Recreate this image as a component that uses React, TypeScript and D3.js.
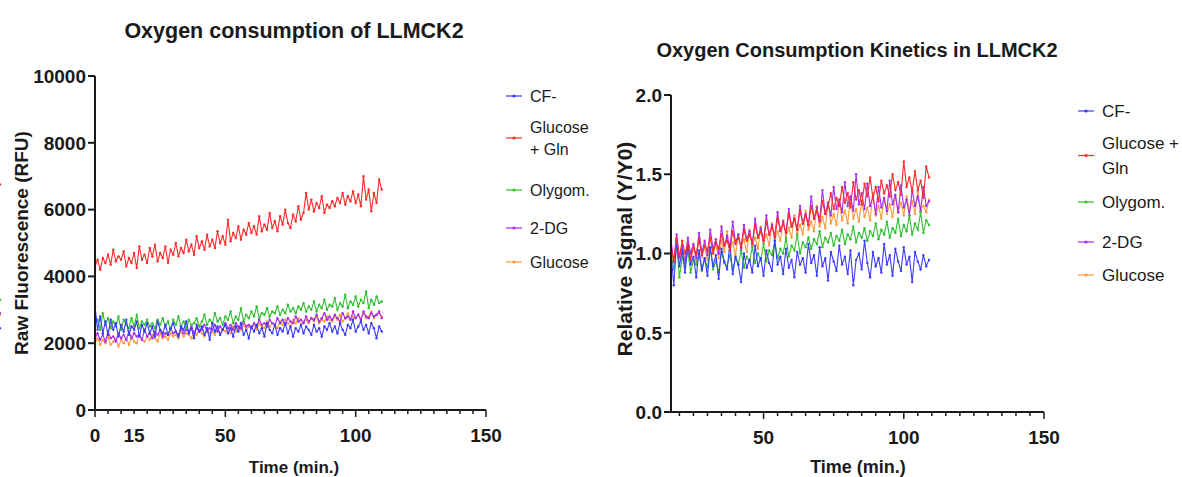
import React from "react";
import * as d3 from "d3";

// ---------- DATA ----------
const seriesNames = ["CF-", "Glucose + Gln", "Olygom.", "2-DG", "Glucose"];
const seriesColors = ["#3b3bff", "#ff2a2a", "#2fbf2f", "#a52cf0", "#ff9a3c"];

const timeLeft = d3.range(0, 111, 1);
const rawCF = [3100, 2400, 2800, 2300, 2650, 2250, 2700, 2400, 2600, 2200, 2550,
  2350, 2700, 2250, 2500, 2400, 2650, 2200, 2550, 2350, 2600,
  2300, 2500, 2200, 2650, 2400, 2300, 2550, 2250, 2450, 2600,
  2350, 2200, 2500, 2400, 2650, 2300, 2450, 2150, 2550, 2350,
  2500, 2250, 2450, 2100, 2600, 2350, 2500, 2250, 2400, 2550,
  2300, 2450, 2200, 2500, 2350, 2600, 2250, 2400, 2150, 2500,
  2350, 2550, 2300, 2450, 2200, 2600, 2400, 2300, 2550, 2250,
  2450, 2350, 2600, 2300, 2500, 2200, 2450, 2350, 2550, 2300,
  2500, 2400, 2250, 2550, 2350, 2450, 2200, 2500, 2400, 2600,
  2350, 2500, 2300, 2600, 2400, 2250, 2550, 2450, 2700, 2350,
  2500, 2650, 2400, 2550, 2300, 2600, 2450, 2150, 2500, 2350, 2450];
const rawGlcGln = [4300, 4500, 4200, 4550, 4400, 4650, 4350, 4800, 4450, 4600, 4500,
  4750, 4300, 4550, 4400, 4700, 4250, 4900, 4500, 4650, 4400,
  4850, 4600, 4950, 4450, 4700, 4550, 4900, 4400, 4800, 4650,
  5000, 4600, 4850, 4700, 5100, 4750, 4950, 4650, 5200, 4850,
  5050, 4800, 5250, 4900, 5100, 4850, 5350, 5000, 5200, 4950,
  5700, 5050, 5300, 5150, 5500, 5100, 5400, 5250, 5600, 5300,
  5500, 5250, 5800, 5350, 5550, 5400, 5900, 5450, 5650, 5350,
  5800, 5550, 6000, 5600, 5450, 5850, 5650, 6100, 5700, 5900,
  6500, 6000, 6300, 5950, 6200, 6050, 6400, 5900, 6150, 6050,
  6250, 6100, 6350, 6200, 6500, 6150, 6400, 6250, 6550, 6200,
  6450, 6100, 7000, 6300, 6600, 5950, 6500, 6200, 6900, 6600, 6750];
const rawOlygom = [2500, 2700, 2400, 2900, 2550, 2750, 2450, 2650, 2500, 2800, 2400,
  2700, 2550, 2450, 2750, 2500, 2850, 2450, 2650, 2550, 2700,
  2500, 2600, 2450, 2700, 2550, 2750, 2500, 2650, 2400, 2700,
  2550, 2800, 2500, 2650, 2450, 2700, 2550, 2600, 2750, 2500,
  2650, 2850, 2550, 2700, 2600, 2900, 2650, 2750, 2550, 2800,
  2700, 2950, 2600, 2800, 2700, 3050, 2650, 2850, 2750, 2950,
  2800, 3100, 2750, 2900, 2850, 3050, 2800, 2950, 2900, 3100,
  2850, 3000, 2900, 3150, 2950, 3050, 2900, 3100, 3000, 3200,
  2950, 3100, 3000, 3250, 2950, 3150, 3050, 3300, 3000, 3150,
  3100, 3350, 3000, 3200, 3100, 3450, 3050, 3250, 3150, 3400,
  3100, 3300, 3200, 3550, 3050, 3300, 3150, 3400, 3200, 3250, 3300];
const raw2DG = [2150, 2300, 2100, 2250, 2050, 2350, 2150, 2200, 2050, 2300, 2150,
  2250, 2100, 2350, 2150, 2300, 2200, 2250, 2100, 2400, 2200,
  2300, 2150, 2350, 2250, 2400, 2200, 2300, 2250, 2450, 2300,
  2350, 2250, 2450, 2300, 2400, 2350, 2500, 2300, 2450, 2350,
  2400, 2550, 2350, 2450, 2400, 2550, 2350, 2500, 2400, 2600,
  2450, 2550, 2400, 2600, 2500, 2450, 2650, 2500, 2550, 2450,
  2600, 2500, 2700, 2550, 2600, 2500, 2700, 2600, 2550, 2750,
  2600, 2700, 2550, 2750, 2650, 2600, 2800, 2650, 2700, 2600,
  2800, 2650, 2750, 2700, 2850, 2650, 2750, 2900, 2700, 2800,
  2700, 2850, 2750, 2650, 2900, 2750, 2800, 2700, 2950, 2750,
  2850, 2700, 2950, 2800, 2750, 2900, 2800, 2850, 2950, 2750, 2900];
const rawGlucose = [2000, 2150, 1950, 2100, 2000, 2200, 1950, 2050, 2150, 1900, 2100,
  2000, 2150, 1950, 2200, 2050, 2000, 2250, 2100, 2050, 2200,
  2100, 2250, 2150, 2050, 2300, 2150, 2200, 2100, 2300, 2200,
  2250, 2150, 2350, 2200, 2300, 2250, 2150, 2350, 2250, 2400,
  2300, 2200, 2400, 2300, 2350, 2250, 2450, 2300, 2400, 2350,
  2450, 2300, 2500, 2350, 2450, 2400, 2550, 2400, 2500, 2450,
  2550, 2400, 2600, 2500, 2450, 2650, 2500, 2600, 2550, 2450,
  2650, 2550, 2700, 2600, 2500, 2700, 2600, 2750, 2550, 2650,
  2700, 2600, 2750, 2650, 2800, 2600, 2700, 2650, 2800, 2700,
  2650, 2800, 2700, 2850, 2650, 2750, 2900, 2700, 2800, 2750,
  2850, 2700, 2900, 2750, 2800, 2950, 2750, 2850, 2900, 2800, 2850];

const timeRight = d3.range(17, 110, 1);
const relCF = [1.00, 0.80, 1.08, 0.92, 1.02, 0.88, 1.05, 0.93, 0.98, 0.85,
  1.02, 0.90, 0.97, 0.86, 1.04, 0.92, 0.99, 0.84, 1.03, 0.95,
  0.90, 1.06, 0.87, 0.98, 0.93, 0.82, 1.00, 0.91, 0.96, 0.88,
  1.05, 0.92, 0.97, 0.86, 1.02, 0.94, 0.89, 1.08, 0.93, 0.98,
  0.87, 1.03, 0.91, 0.96, 0.85, 1.01, 0.93, 0.97, 0.88, 1.06,
  0.94, 0.99, 0.86, 1.04, 0.92, 0.97, 0.83, 1.01, 0.95, 0.89,
  1.05, 0.93, 0.98, 0.87, 1.02, 0.80, 0.96, 1.00, 0.90, 1.08,
  0.94, 0.85, 1.01, 0.92, 0.97, 0.88, 1.06, 0.93, 0.99, 0.86,
  1.03, 0.95, 0.89, 1.04, 0.93, 0.98, 0.82, 1.01, 0.95, 0.90,
  0.99, 0.92, 0.96];
const relGlcGln = [1.05, 0.95, 1.10, 0.98, 1.08, 1.00, 1.06, 0.96, 1.04, 1.00,
  1.09, 0.99, 1.05, 1.02, 1.10, 1.00, 1.07, 1.03, 1.12, 1.05,
  1.08, 1.02, 1.14, 1.06, 1.10, 1.04, 1.15, 1.08, 1.12, 1.06,
  1.18, 1.10, 1.14, 1.08, 1.20, 1.12, 1.17, 1.10, 1.22, 1.15,
  1.19, 1.13, 1.25, 1.17, 1.22, 1.15, 1.27, 1.19, 1.24, 1.18,
  1.30, 1.22, 1.27, 1.20, 1.33, 1.25, 1.30, 1.38, 1.28, 1.35,
  1.30, 1.42, 1.32, 1.38, 1.29, 1.45, 1.34, 1.40, 1.31, 1.44,
  1.36, 1.48, 1.35, 1.42, 1.33, 1.46, 1.38, 1.43, 1.36, 1.50,
  1.40, 1.45, 1.37, 1.58, 1.42, 1.48, 1.39, 1.52, 1.40, 1.46,
  1.35, 1.55, 1.48];
const relOlygom = [1.00, 0.90, 1.05, 0.85, 0.98, 0.92, 1.02, 0.88, 0.96, 0.93,
  1.00, 0.89, 0.97, 0.91, 1.03, 0.90, 0.95, 0.88, 1.01, 0.94,
  0.92, 0.99, 0.90, 0.97, 0.93, 1.02, 0.91, 0.98, 0.95, 1.04,
  0.94, 1.00, 0.96, 1.06, 0.95, 1.02, 0.99, 1.08, 0.97, 1.03,
  1.00, 1.10, 0.98, 1.05, 1.02, 1.12, 1.00, 1.07, 1.04, 1.10,
  1.03, 1.09, 1.06, 1.14, 1.04, 1.10, 1.07, 1.13, 1.05, 1.11,
  1.08, 1.15, 1.06, 1.12, 1.09, 1.17, 1.07, 1.13, 1.10, 1.16,
  1.08, 1.14, 1.11, 1.19, 1.09, 1.15, 1.12, 1.20, 1.10, 1.16,
  1.13, 1.22, 1.11, 1.18, 1.14, 1.24, 1.12, 1.19, 1.15, 1.26,
  1.13, 1.21, 1.18];
const rel2DG = [1.08, 0.95, 1.12, 0.98, 1.05, 0.94, 1.10, 1.00, 1.06, 0.97,
  1.13, 1.01, 1.08, 0.99, 1.15, 1.03, 1.09, 1.00, 1.17, 1.05,
  1.11, 1.04, 1.20, 1.07, 1.12, 1.03, 1.18, 1.09, 1.14, 1.06,
  1.22, 1.10, 1.16, 1.08, 1.24, 1.12, 1.18, 1.11, 1.26, 1.14,
  1.20, 1.13, 1.28, 1.17, 1.22, 1.15, 1.30, 1.19, 1.25, 1.18,
  1.36, 1.22, 1.29, 1.21, 1.40, 1.25, 1.32, 1.24, 1.42, 1.28,
  1.34, 1.26, 1.45, 1.30, 1.36, 1.27, 1.50, 1.31, 1.38, 1.28,
  1.44, 1.30, 1.36, 1.25, 1.42, 1.29, 1.35, 1.27, 1.46, 1.31,
  1.37, 1.26, 1.43, 1.29, 1.34, 1.24, 1.40, 1.30, 1.36, 1.27,
  1.42, 1.30, 1.33];
const relGlucose = [1.02, 0.94, 1.09, 0.97, 1.04, 0.92, 1.07, 0.99, 1.05, 0.95,
  1.10, 0.98, 1.04, 0.96, 1.12, 1.00, 1.06, 0.97, 1.08, 1.01,
  1.14, 1.02, 1.07, 0.99, 1.12, 1.04, 1.09, 1.01, 1.15, 1.05,
  1.10, 1.03, 1.17, 1.07, 1.12, 1.05, 1.19, 1.09, 1.14, 1.08,
  1.21, 1.11, 1.16, 1.10, 1.24, 1.13, 1.18, 1.12, 1.27, 1.15,
  1.20, 1.14, 1.30, 1.17, 1.23, 1.16, 1.32, 1.19, 1.25, 1.18,
  1.34, 1.21, 1.27, 1.19, 1.36, 1.22, 1.28, 1.20, 1.33, 1.23,
  1.29, 1.21, 1.38, 1.24, 1.30, 1.22, 1.35, 1.25, 1.31, 1.23,
  1.37, 1.26, 1.32, 1.24, 1.36, 1.27, 1.33, 1.25, 1.39, 1.28,
  1.30, 1.26, 1.34];

const leftYTicks = [0, 2000, 4000, 6000, 8000, 10000];
const leftXTickLabels = [0, 15, 50, 100, 150];
const rightYTicks = [0, 0.5, 1.0, 1.5, 2.0];
const rightXTickLabels = [50, 100, 150];

const leftSeries = [rawCF, rawGlcGln, rawOlygom, raw2DG, rawGlucose];
const rightSeries = [relCF, relGlcGln, relOlygom, rel2DG, relGlucose];
const drawOrder = [4, 3, 2, 0, 1];

const FONT = "'Liberation Sans', Arial, sans-serif";
const INK = "#1a1a1a";

type PanelProps = {
  title: string; titleX: number; titleY: number; titleSize: number;
  xDomain: [number, number]; xRange: [number, number];
  yDomain: [number, number]; yRange: [number, number];
  xs: number[]; series: number[][];
  yTicks: number[]; yFmt: (v: number) => string; xLabels: number[]; minorStart: number;
  yTitle: string; yTitleX: number; yTitleY: number; yTitleSize: number;
  xTitleX: number; xTitleY: number; xTitleSize: number; tickSize: number;
  legendX: number; legendYs: number[]; legendLines: string[][]; legendSize: number; legendLH: number;
};

function Panel(p: PanelProps) {
  const x = d3.scaleLinear().domain(p.xDomain).range(p.xRange);
  const y = d3.scaleLinear().domain(p.yDomain).range(p.yRange);
  const line = d3.line<[number, number]>().x(d => x(d[0])).y(d => y(d[1]));
  const x0 = p.xRange[0], y0 = p.yRange[0];
  const minor = d3.range(p.minorStart, p.xDomain[1] + 0.001, 5);
  return (
    <g>
      <text x={p.titleX} y={p.titleY} textAnchor="middle" fontFamily={FONT} fontWeight="bold" fontSize={p.titleSize} fill={INK}>{p.title}</text>
      {drawOrder.map(si => {
        const pts: [number, number][] = p.series[si].map((v, i) => [p.xs[i], v]);
        return (
          <g key={si}>
            <path d={line(pts) || ""} fill="none" stroke={seriesColors[si]} strokeWidth={1.1} />
            {pts.map((d, i) => (
              <circle key={i} cx={x(d[0])} cy={y(d[1])} r={1.2} fill={seriesColors[si]} />
            ))}
          </g>
        );
      })}
      {/* axes */}
      <line x1={x0} x2={x0} y1={p.yRange[1]} y2={y0} stroke={INK} strokeWidth={2} />
      <line x1={x0} x2={p.xRange[1]} y1={y0} y2={y0} stroke={INK} strokeWidth={2} />
      {p.yTicks.map(t => (
        <g key={t}>
          <line x1={x0 - 7} x2={x0} y1={y(t)} y2={y(t)} stroke={INK} strokeWidth={2} />
          <text x={x0 - 9} y={y(t)} dy="0.36em" textAnchor="end" fontFamily={FONT} fontWeight="bold" fontSize={p.tickSize} fill={INK}>{p.yFmt(t)}</text>
        </g>
      ))}
      {minor.map(t => (
        <line key={t} x1={x(t)} x2={x(t)} y1={y0} y2={y0 + (t % 50 === 0 ? 7 : 4)} stroke={INK} strokeWidth={1.5} />
      ))}
      {p.xLabels.map(t => (
        <text key={t} x={x(t)} y={y0 + 32} textAnchor="middle" fontFamily={FONT} fontWeight="bold" fontSize={p.tickSize} fill={INK}>{t}</text>
      ))}
      <text x={p.xTitleX} y={p.xTitleY} textAnchor="middle" fontFamily={FONT} fontWeight="bold" fontSize={p.xTitleSize} fill={INK}>Time (min.)</text>
      <text transform={`translate(${p.yTitleX},${p.yTitleY}) rotate(-90)`} textAnchor="middle" fontFamily={FONT} fontWeight="bold" fontSize={p.yTitleSize} fill={INK}>{p.yTitle}</text>
      {/* legend */}
      {seriesNames.map((n, i) => {
        const ly = p.legendYs[i];
        const lines = p.legendLines[i];
        const my = ly + ((lines.length - 1) * p.legendLH) / 2;
        return (
          <g key={n}>
            <line x1={p.legendX} x2={p.legendX + 16} y1={my} y2={my} stroke={seriesColors[i]} strokeWidth={1.2} />
            <circle cx={p.legendX + 8} cy={my} r={1.6} fill={seriesColors[i]} />
            {lines.map((t, k) => (
              <text key={k} x={p.legendX + 24} y={ly + k * p.legendLH} dy="0.36em" fontFamily={FONT} fontSize={p.legendSize} fill={INK}>{t}</text>
            ))}
          </g>
        );
      })}
    </g>
  );
}

export default function App() {
  return (
    <svg width={1182} height={477} style={{ position: "absolute", left: 0, top: 0, background: "#fff" }}>
      <Panel
        title="Oxygen consumption of LLMCK2" titleX={294} titleY={38} titleSize={21.5}
        xDomain={[0, 150]} xRange={[95, 486]} yDomain={[0, 10000]} yRange={[410, 76]}
        xs={timeLeft} series={leftSeries}
        yTicks={leftYTicks} yFmt={v => String(v)} xLabels={leftXTickLabels} minorStart={0}
        yTitle="Raw Fluorescence (RFU)" yTitleX={28} yTitleY={243} yTitleSize={19}
        xTitleX={294} xTitleY={473} xTitleSize={17} tickSize={19}
        legendX={506} legendYs={[96, 127, 190, 228, 262]}
        legendLines={[["CF-"], ["Glucose", "+ Gln"], ["Olygom."], ["2-DG"], ["Glucose"]]}
        legendSize={16} legendLH={22}
      />
      <Panel
        title="Oxygen Consumption Kinetics in LLMCK2" titleX={857} titleY={57} titleSize={20}
        xDomain={[17, 150]} xRange={[671, 1044]} yDomain={[0, 2]} yRange={[412, 95]}
        xs={timeRight} series={rightSeries}
        yTicks={rightYTicks} yFmt={v => v.toFixed(1)} xLabels={rightXTickLabels} minorStart={20}
        yTitle="Relative Signal (Y/Y0)" yTitleX={632} yTitleY={249} yTitleSize={21}
        xTitleX={858} xTitleY={473} xTitleSize={18} tickSize={19}
        legendX={1078} legendYs={[111, 143, 202, 242, 275]}
        legendLines={[["CF-"], ["Glucose +", "Gln"], ["Olygom."], ["2-DG"], ["Glucose"]]}
        legendSize={17} legendLH={25}
      />
    </svg>
  );
}
